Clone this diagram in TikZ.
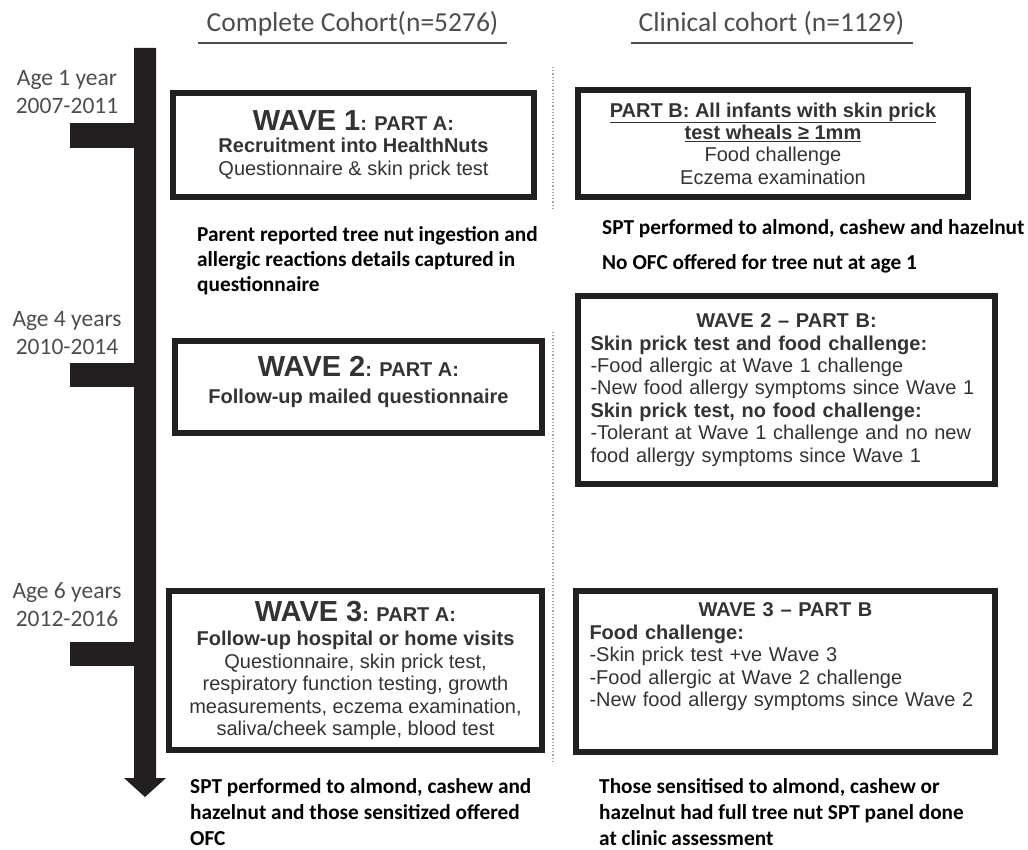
\documentclass[tikz,border=0pt]{standalone}
\usepackage{fontspec}
\setmainfont{Liberation Sans}
\newfontfamily\calibri{Carlito}
\usetikzlibrary{positioning}

\definecolor{barblack}{HTML}{231F20}
\definecolor{boxtext}{HTML}{333333}
\definecolor{lblgray}{HTML}{4D4D4D}

\tikzset{
  wavebox/.style={draw=barblack, line width=6pt, inner sep=0pt, align=center,
    text=boxtext, font=\fontsize{20}{22.4}\selectfont},
  agelbl/.style={align=center, text=lblgray, font=\calibri\fontsize{23.5}{28}\selectfont},
  hdr/.style={anchor=base, text=lblgray, inner xsep=8pt, font=\calibri\fontsize{27.5}{30}\selectfont},
  note/.style={anchor=west, align=left, inner sep=0pt, font=\calibri\bfseries\fontsize{21.3}{25}\selectfont},
  sep/.style={dotted, line width=1.2pt, gray!70}
}
\newcommand{\wavebig}[1]{{\fontsize{29}{30}\selectfont #1}}

\begin{document}
\begin{tikzpicture}[x=1pt,y=-1pt]
\useasboundingbox (0,0) rectangle (1028,850);

% column headings
\node[hdr] (hdrA) at (352.5,31.5) {Complete Cohort(n=5276)};
\node[hdr] (hdrB) at (771.5,31.5) {Clinical cohort (n=1129)};
\draw[line width=1.5pt, lblgray] ([yshift=-11.5pt]hdrA.base west) -- ([yshift=-11.5pt]hdrA.base east);
\draw[line width=1.5pt, lblgray] ([yshift=-11.5pt]hdrB.base west) -- ([yshift=-11.5pt]hdrB.base east);

% time line
\fill[barblack] (134,48) -- (156,48) -- (156,778) -- (166,778) -- (145,797)
  -- (124,778) -- (134,778) -- cycle;
\fill[barblack] (70,123) rectangle (140,148);
\fill[barblack] (70,363) rectangle (140,387);
\fill[barblack] (70,642) rectangle (140,666);

\node[agelbl] (age1) at (67,92) {Age 1 year\\2007-2011};
\node[agelbl] (age4) at (67,333) {Age 4 years\\2010-2014};
\node[agelbl] (age6) at (67,605) {Age 6 years\\2012-2016};

% divider
\draw[sep] (553,67) -- (553,210);
\draw[sep] (553,332) -- (553,763);

% part A
\node[wavebox, minimum width=361pt, minimum height=104pt] (w1a) at (353.5,145)
  {\textbf{\wavebig{WAVE 1}: PART A:}\\
   \textbf{Recruitment into HealthNuts}\\
   Questionnaire \& skin prick test};
\node[wavebox, minimum width=367pt, minimum height=92pt] (w2a) at (358.5,387)
  {\textbf{\wavebig{WAVE 2}: PART A:}\\[4pt]
   \textbf{Follow-up mailed questionnaire}\\[-8pt]\mbox{}};
\node[wavebox, minimum width=373pt, minimum height=159pt] (w3a) at (355.5,670.5)
  {\textbf{\wavebig{WAVE 3}: PART A:}\\[2pt]
   \textbf{Follow-up hospital or home visits}\\
   Questionnaire, skin prick test,\\
   respiratory function testing, growth\\
   measurements, eczema examination,\\
   saliva/cheek sample, blood test};

% part B
\node[wavebox, minimum width=390pt, minimum height=107pt] (w1b) at (773,143.5)
  {\textbf{\underline{PART B: All infants with skin prick}}\\
   \textbf{\underline{test wheals ≥ 1mm}}\\
   Food challenge\\
   Eczema examination};
\node[wavebox, align=left, text width=392pt, minimum width=417pt, minimum height=187pt] (w2b) at (786.5,390)
  {\makebox[392pt]{\textbf{WAVE 2 – PART B:}}\\
   \textbf{Skin prick test and food challenge:}\\
   -Food allergic at Wave 1 challenge\\
   -New food allergy symptoms since Wave 1\\
   \textbf{Skin prick test, no food challenge:}\\
   -Tolerant at Wave 1 challenge and no new\\
   food allergy symptoms since Wave 1};
\node[wavebox, align=left, text width=392pt, minimum width=419pt, minimum height=161pt] (w3b) at (785.5,671.5)
  {\makebox[392pt]{\textbf{WAVE 3 – PART B}}\\
   \textbf{Food challenge:}\\
   -Skin prick test +ve Wave 3\\
   -Food allergic at Wave 2 challenge\\
   -New food allergy symptoms since Wave 2\\[11pt]\mbox{}};

% notes
\node[note] (note1a) at (197,261)
  {Parent reported tree nut ingestion and\\
   allergic reactions details captured in\\
   questionnaire};
\node[note] (note1b) at (602,246)
  {SPT performed to almond, cashew and hazelnut\\[10pt]
   No OFC offered for tree nut at age 1};
\node[note] (note3a) at (190,812)
  {SPT performed to almond, cashew and\\[1pt]
   hazelnut and those sensitized offered\\[1pt]
   OFC};
\node[note] (note3b) at (599,812)
  {Those sensitised to almond, cashew or\\[1pt]
   hazelnut had full tree nut SPT panel done\\[1pt]
   at clinic assessment};
\end{tikzpicture}
\end{document}
